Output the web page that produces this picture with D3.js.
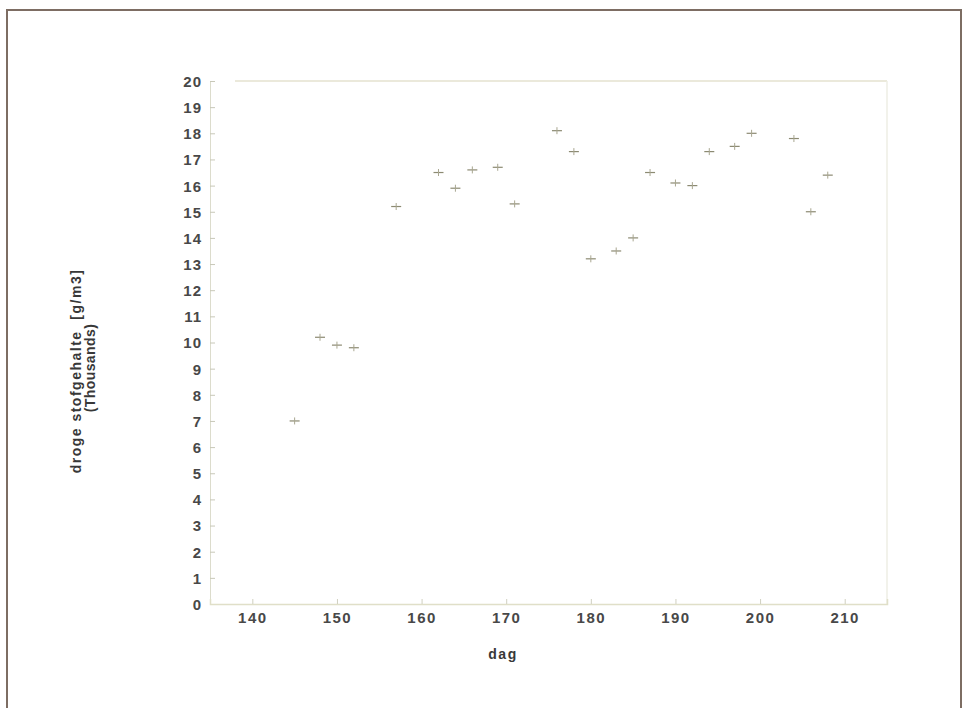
<!DOCTYPE html>
<html><head><meta charset="utf-8">
<script src="https://cdn.jsdelivr.net/npm/d3@7"></script>
<style>body{margin:0;background:#fff}svg{display:block}</style>
</head><body>
<svg id="c" width="967" height="708"></svg>
<script>
const days   = [145,148,150,152,157,162,164,166,169,171,176,178,180,183,185,187,190,192,194,197,199,204,206,208];
const values = [7.0,10.2,9.9,9.8,15.2,16.5,15.9,16.6,16.7,15.3,18.1,17.3,13.2,13.5,14.0,16.5,16.1,16.0,17.3,17.5,18.0,17.8,15.0,16.4];
const xTicks = [140,150,160,170,180,190,200,210];
const yTicks = d3.range(0,21);
const xTitle = "dag";
const yTitle1 = "droge stofgehalte  [g/m3]";
const yTitle2 = "(Thousands)";

const svg = d3.select("#c");
const L=210, R=887, T=81, B=604;
const x = d3.scaleLinear().domain([135,215]).range([L,R]);
const y = d3.scaleLinear().domain([0,20]).range([B,T]);

// outer frame
svg.append("rect").attr("x",7).attr("y",10).attr("width",954).attr("height",710)
  .attr("fill","none").attr("stroke","#7d6d63").attr("stroke-width",2);

// plot frame (faint)
svg.append("line").attr("x1",L+25).attr("x2",R).attr("y1",T).attr("y2",T).attr("stroke","#e4e2cf").attr("stroke-width",1.5);
svg.append("line").attr("x1",R).attr("x2",R).attr("y1",T).attr("y2",B).attr("stroke","#eeeee4").attr("stroke-width",1.5);

const fontT = "'Liberation Sans', Arial, sans-serif";

// y axis
const ya = svg.append("g").attr("transform",`translate(${L},0)`)
  .call(d3.axisRight(y).tickValues(yTicks).tickSize(5).tickFormat(d3.format("d")));
ya.select(".domain").attr("stroke","#dcdccc");
ya.selectAll(".tick line").attr("stroke","#c8c8b8");
ya.selectAll(".tick text").attr("x",-8).attr("text-anchor","end")
  .attr("font-family",fontT).attr("font-size",15).attr("letter-spacing","1px").attr("fill","#484848").attr("font-weight","bold").attr("dy","0.36em");

// x axis
const xa = svg.append("g").attr("transform",`translate(0,${B})`)
  .call(d3.axisTop(x).tickValues(xTicks).tickSize(5).tickFormat(d3.format("d")));
xa.select(".domain").attr("stroke","#e0dfc8").attr("stroke-width",1.5);
xa.selectAll(".tick line").attr("stroke","#d0d0c0");
xa.selectAll(".tick text").attr("y",19).attr("dy",0)
  .attr("font-family",fontT).attr("font-size",15).attr("letter-spacing","1.5px").attr("fill","#484848").attr("font-weight","bold");

// titles
svg.append("text").attr("x",503).attr("y",659).attr("text-anchor","middle")
  .attr("font-family",fontT).attr("font-size",14).attr("letter-spacing","1.5px").attr("font-weight","bold").attr("fill","#383838").text(xTitle);
svg.append("text").attr("transform","translate(81,371) rotate(-90)").attr("text-anchor","middle")
  .attr("font-family",fontT).attr("font-size",14).attr("letter-spacing","1.5px").attr("font-weight","bold").attr("fill","#383838").attr("xml:space","preserve").text(yTitle1);
svg.append("text").attr("transform","translate(95,368) rotate(-90)").attr("text-anchor","middle")
  .attr("font-family",fontT).attr("font-size",14).attr("letter-spacing","0.4px").attr("font-weight","bold").attr("fill","#383838").text(yTitle2);

// points as + markers
const pts = svg.append("g");
days.forEach((d,i)=>{
  const cx=x(d), cy=y(values[i]);
  pts.append("line").attr("x1",cx-5).attr("x2",cx+5).attr("y1",cy).attr("y2",cy).attr("stroke","#8c8a72").attr("stroke-width",1.2);
  pts.append("line").attr("x1",cx).attr("x2",cx).attr("y1",cy-3.5).attr("y2",cy+3.5).attr("stroke","#a8a690").attr("stroke-width",1);
});
</script>
</body></html>
